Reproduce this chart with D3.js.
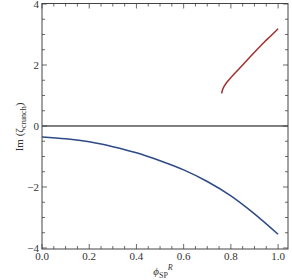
<!DOCTYPE html>
<html><head><meta charset="utf-8">
<script src="https://cdn.jsdelivr.net/npm/d3@7"></script>
<style>body{margin:0;background:#fff}svg{display:block}</style>
</head><body>
<script>
const blueX = [0, 0.1, 0.2, 0.3, 0.4, 0.5, 0.6, 0.7, 0.8, 0.9, 1.0];
const blueY = [-0.36, -0.42, -0.52, -0.68, -0.88, -1.14, -1.44, -1.82, -2.29, -2.88, -3.55];
const redX = [0.761, 0.764, 0.770, 0.780, 0.795, 0.82, 0.85, 0.88, 0.91, 0.94, 0.97, 1.0];
const redY = [1.07, 1.17, 1.28, 1.40, 1.54, 1.75, 2.00, 2.25, 2.50, 2.74, 2.96, 3.19];
const xTicks = [0, 0.2, 0.4, 0.6, 0.8, 1.0];
const xTickLabels = ["0.0", "0.2", "0.4", "0.6", "0.8", "1.0"];
const yTicks = [-4, -2, 0, 2, 4];
const yTickLabels = ["\u22124", "\u22122", "0", "2", "4"];

const W = 292, H = 280;
const L = 42, R = 288, T = 3.5, B = 249;
const x = d3.scaleLinear().domain([0, 1.042]).range([L, R]);
const y = d3.scaleLinear().domain([-4.033, 4.016]).range([B, T]);
const FONT = "'Liberation Serif', 'Times New Roman', Times, serif";

const svg = d3.select("body").append("svg").attr("width", W).attr("height", H)
  .attr("font-family", FONT);

svg.append("line").attr("x1", L).attr("x2", R).attr("y1", y(0)).attr("y2", y(0))
  .attr("stroke", "#000").attr("stroke-width", 1);

const line = d3.line().x(d => x(d[0])).y(d => y(d[1])).curve(d3.curveMonotoneX);
svg.append("path").datum(blueX.map((v, i) => [v, blueY[i]]))
  .attr("d", line).attr("fill", "none").attr("stroke", "#2e4a86").attr("stroke-width", 1.5);
svg.append("path").datum(redX.map((v, i) => [v, redY[i]]))
  .attr("d", line).attr("fill", "none").attr("stroke", "#a3302f").attr("stroke-width", 1.5);

svg.append("rect").attr("x", L).attr("y", T).attr("width", R - L).attr("height", B - T)
  .attr("fill", "none").attr("stroke", "#444").attr("stroke-width", 1);

const tk = svg.append("g").attr("stroke", "#444").attr("stroke-width", 0.8);
d3.range(0, 1.0001, 0.05).forEach(v => {
  const major = xTicks.some(t => Math.abs(t - v) < 1e-6);
  const len = major ? 5 : 3;
  tk.append("line").attr("x1", x(v)).attr("x2", x(v)).attr("y1", B).attr("y2", B - len);
  tk.append("line").attr("x1", x(v)).attr("x2", x(v)).attr("y1", T).attr("y2", T + len);
});
d3.range(-4, 4.0001, 0.5).forEach(v => {
  const major = yTicks.some(t => Math.abs(t - v) < 1e-6);
  const len = major ? 5 : 3;
  tk.append("line").attr("y1", y(v)).attr("y2", y(v)).attr("x1", L).attr("x2", L + len);
  tk.append("line").attr("y1", y(v)).attr("y2", y(v)).attr("x1", R).attr("x2", R - len);
});

xTicks.forEach((v, i) => {
  svg.append("text").attr("x", x(v)).attr("y", 260).attr("text-anchor", "middle")
    .attr("font-size", 11).attr("fill", "#333").text(xTickLabels[i]);
});
yTicks.forEach((v, i) => {
  svg.append("text").attr("x", 39).attr("y", y(v) + 3.6).attr("text-anchor", "end")
    .attr("font-size", 11).attr("fill", "#333").text(yTickLabels[i]);
});

const yl = svg.append("text").attr("transform", "translate(23,127) rotate(-90)")
  .attr("text-anchor", "middle").attr("font-size", 11).attr("fill", "#333");
yl.append("tspan").text("Im (\u03b6");
yl.append("tspan").attr("font-size", 8).attr("dy", 2.5).text("crunch");
yl.append("tspan").attr("dy", -2.5).text(")");

const xl = svg.append("text").attr("x", 163).attr("y", 275).attr("text-anchor", "middle")
  .attr("font-size", 11).attr("fill", "#333");
xl.append("tspan").attr("font-style", "italic").text("\u03d5");
xl.append("tspan").attr("font-size", 8).attr("dy", 2.5).text("SP");
xl.append("tspan").attr("font-size", 8).attr("font-style", "italic").attr("dy", -8).text("R");
</script>
</body></html>
